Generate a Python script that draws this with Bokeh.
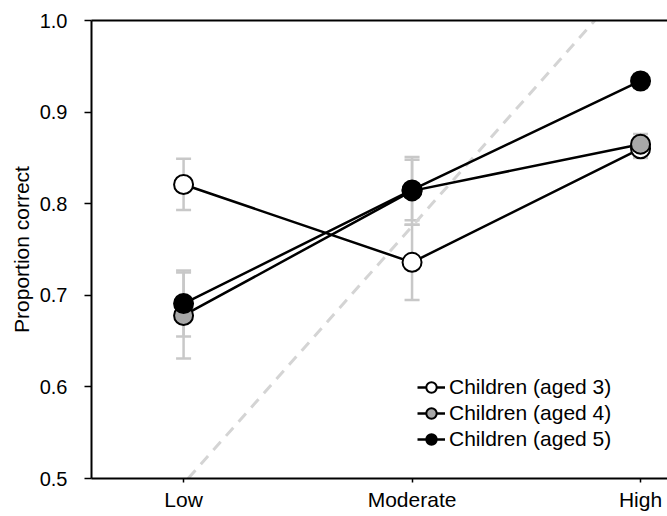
from bokeh.plotting import figure
from bokeh.models import (ColumnDataSource, Range1d, FixedTicker, LinearAxis,
                          Legend, LegendItem, Whisker, TeeHead)
from bokeh.embed import file_html
from bokeh.resources import INLINE

# Proportion correct by condition, for three age groups
conditions = ["Low", "Moderate", "High"]
cond_pos = [0, 1, 2]

age3_mean = [0.821, 0.736, 0.860]
age3_err = [0.028, 0.041, 0.010]
age4_mean = [0.678, 0.814, 0.865]
age4_err = [0.047, 0.037, 0.011]
age5_mean = [0.691, 0.815, 0.934]
age5_err = [0.036, 0.033, 0.008]

series_names = ["Children (aged 3)", "Children (aged 4)", "Children (aged 5)"]
series_fill = ["white", "#a8a8a8", "black"]

# diagonal reference line
reference_x = [0.02, 1.80]
reference_y = [0.5, 1.0]

yticks = [0.5, 0.6, 0.7, 0.8, 0.9, 1.0]

FONT = "Liberation Sans"

p = figure(width=667, height=516, output_backend="svg", toolbar_location=None,
           x_range=Range1d(-0.403, 2.118), y_range=Range1d(0.5, 1.0),
           min_border_left=91, min_border_top=20, min_border_bottom=38,
           min_border_right=0)
p.outline_line_color = None
p.grid.visible = False
p.background_fill_color = "white"
p.border_fill_color = "white"

# axes
xa = p.xaxis[0]
xa.ticker = FixedTicker(ticks=cond_pos)
xa.major_label_overrides = {i: c for i, c in zip(cond_pos, conditions)}
xa.minor_tick_line_color = None
xa.major_tick_in = 0
xa.major_tick_out = 4
xa.axis_line_width = 2
xa.major_tick_line_width = 1.5
xa.major_label_text_font = FONT
xa.major_label_text_font_size = "21px"
xa.major_label_text_color = "black"
xa.major_label_standoff = 5

ya = p.yaxis[0]
ya.ticker = FixedTicker(ticks=yticks)
ya.major_label_overrides = {t: f"{t:.1f}" for t in yticks}
ya.minor_tick_line_color = None
ya.major_tick_in = 0
ya.major_tick_out = 7
ya.axis_line_width = 2
ya.major_tick_line_width = 1.5
ya.major_label_text_font = FONT
ya.major_label_text_font_size = "20px"
ya.major_label_text_color = "black"
ya.major_label_standoff = 17
ya.axis_label = "Proportion correct"
ya.axis_label_text_font = FONT
ya.axis_label_text_font_size = "21px"
ya.axis_label_text_font_style = "normal"
ya.axis_label_text_color = "black"
ya.axis_label_standoff = 4

top = LinearAxis(major_tick_line_color=None, minor_tick_line_color=None,
                 major_label_text_font_size="0px", axis_line_width=2)
p.add_layout(top, "above")

# dashed diagonal
p.line(reference_x, reference_y, line_color="#d4d4d4", line_width=3,
       line_dash="11 8")

means = [age3_mean, age4_mean, age5_mean]
errs = [age3_err, age4_err, age5_err]

# error bars first so markers sit on top
for m, e in zip(means, errs):
    src = ColumnDataSource(dict(x=cond_pos,
                                upper=[a + b for a, b in zip(m, e)],
                                lower=[a - b for a, b in zip(m, e)]))
    w = Whisker(base="x", upper="upper", lower="lower", source=src,
                line_color="#c8c8c8", line_width=2.5,
                upper_head=TeeHead(size=15, line_color="#c8c8c8", line_width=2.5),
                lower_head=TeeHead(size=15, line_color="#c8c8c8", line_width=2.5))
    p.add_layout(w)

items = []
for name, m, fill in zip(series_names, means, series_fill):
    src = ColumnDataSource(dict(x=cond_pos, y=m))
    lr = p.line("x", "y", source=src, line_color="black", line_width=2.5)
    sr = p.scatter("x", "y", source=src, size=19, fill_color=fill,
                   line_color="black", line_width=2)
    items.append(LegendItem(label=name, renderers=[lr, sr]))

legend = Legend(items=items, location=(326, 26), padding=0, margin=0,
                spacing=0, glyph_width=28, glyph_height=26,
                label_height=26, label_standoff=4,
                label_text_font=FONT, label_text_font_size="21px",
                label_text_color="black",
                border_line_color=None, background_fill_alpha=0)
p.add_layout(legend, "center")

with open("out.html", "w") as f:
    f.write(file_html(p, INLINE))
